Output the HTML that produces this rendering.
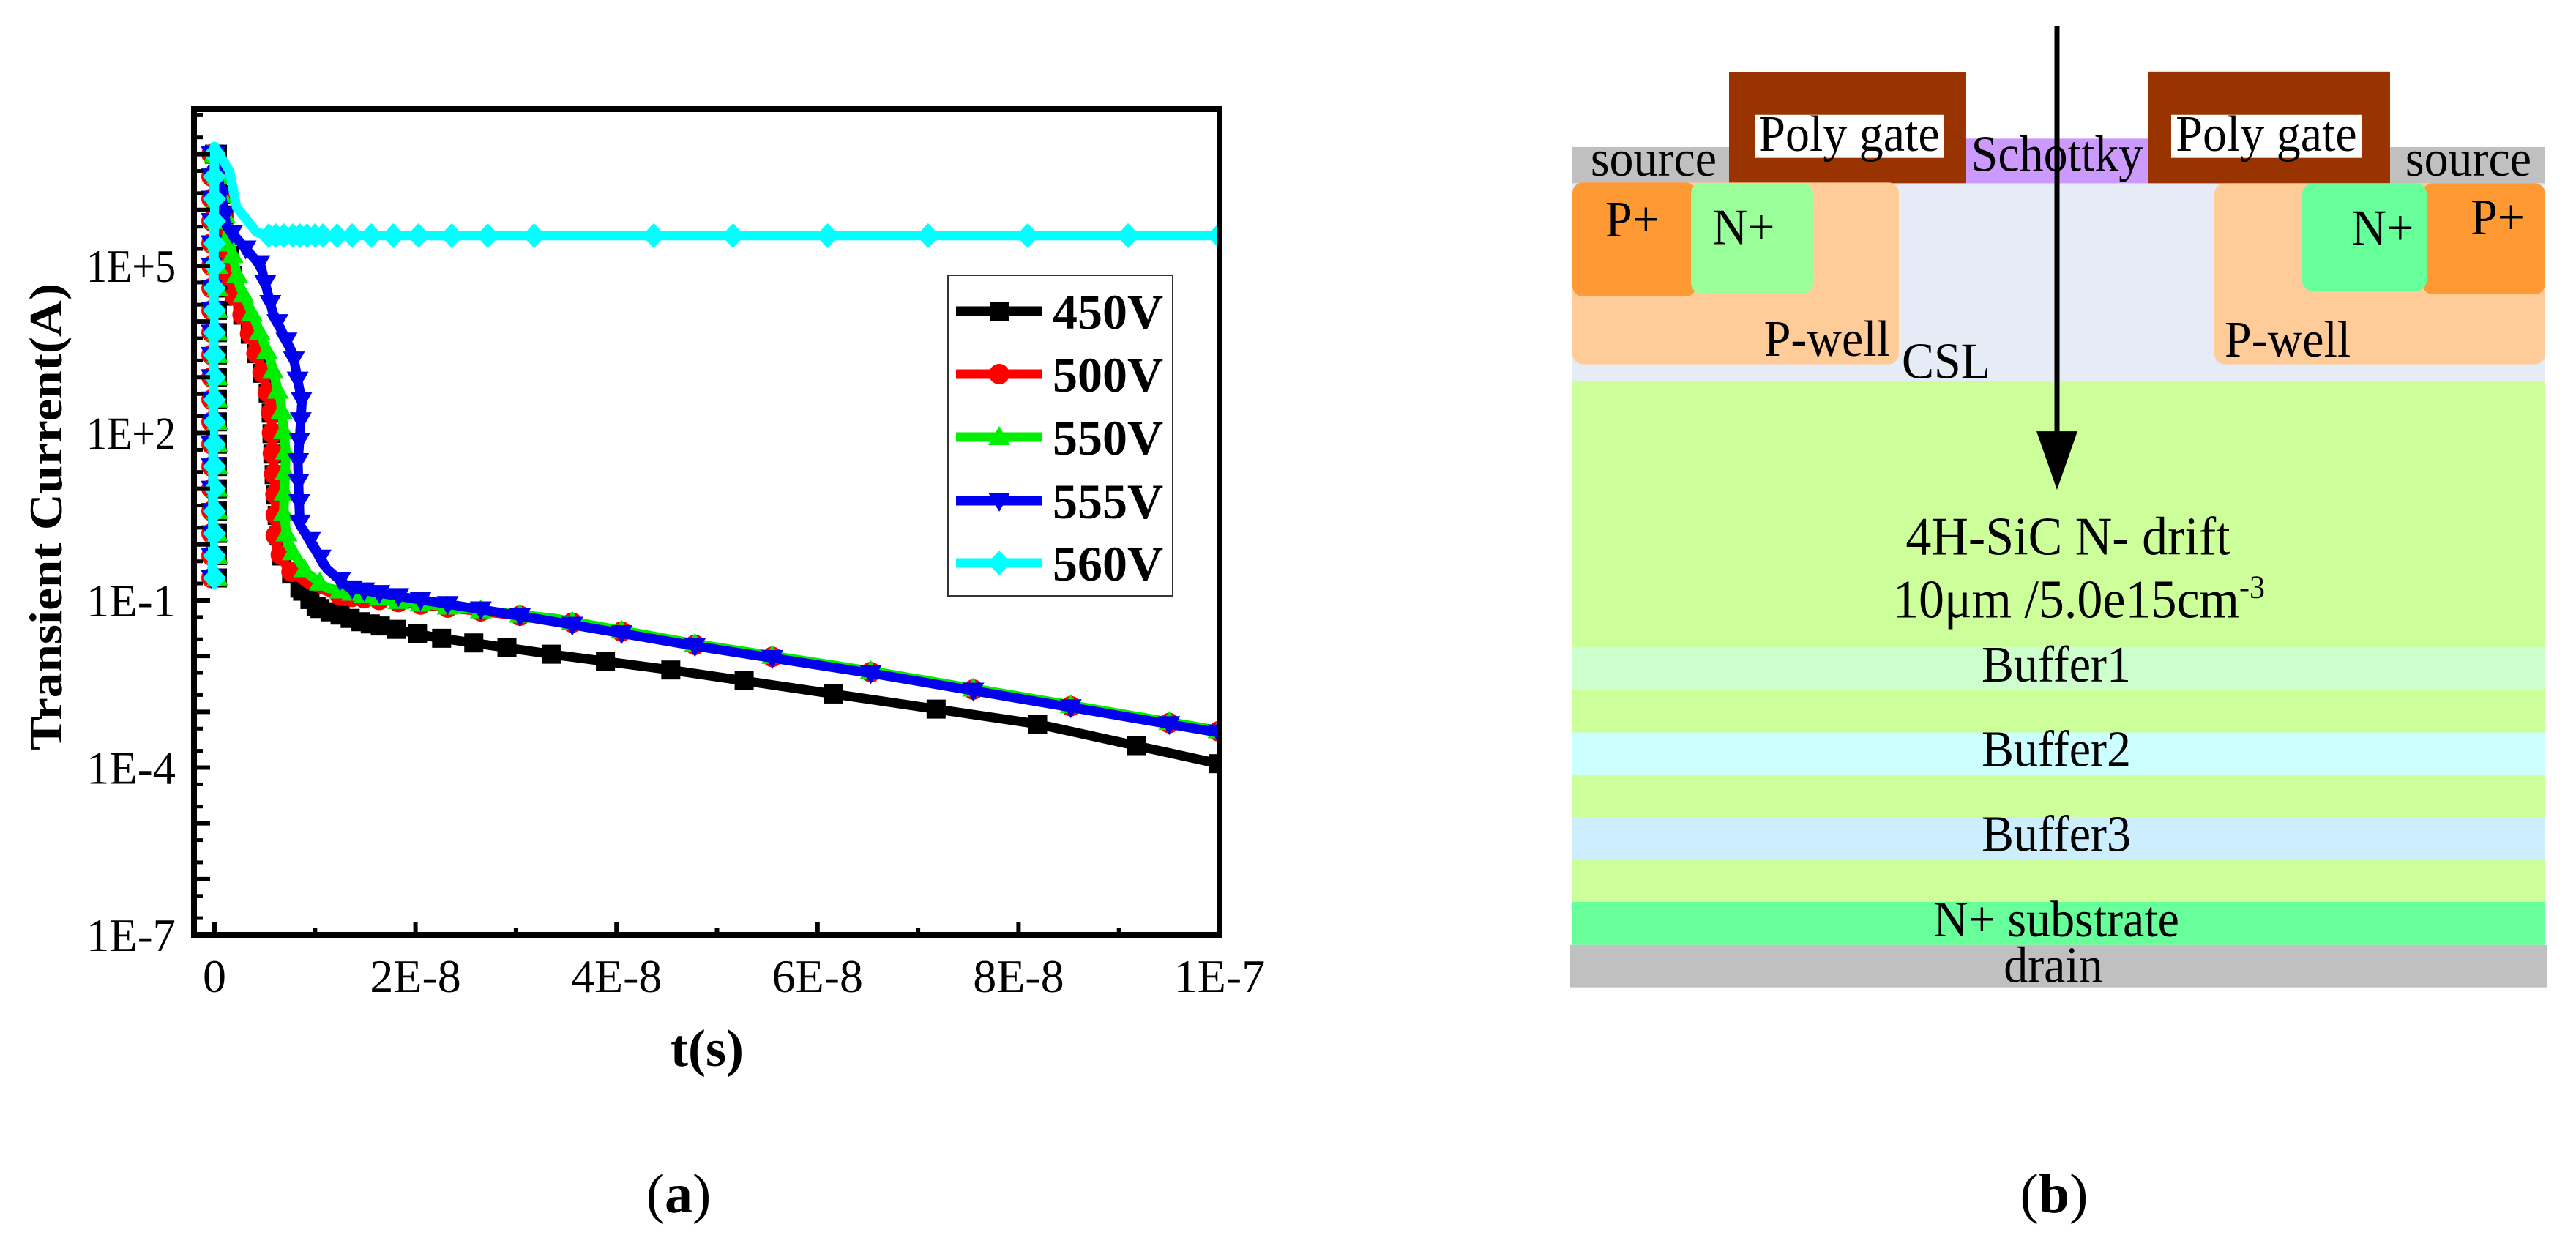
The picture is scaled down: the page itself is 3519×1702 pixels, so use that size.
<!DOCTYPE html>
<html><head><meta charset="utf-8"><style>
html,body{margin:0;padding:0;background:#fff;}
svg{display:block;font-family:"Liberation Serif",serif;}
</style></head><body>
<svg id="fig" width="3519" height="1702" viewBox="0 0 3519 1702" xmlns="http://www.w3.org/2000/svg">
<g id="chart"></g>
<text x="927" y="1656" font-size="76" text-anchor="middle">(<tspan font-weight="bold">a</tspan>)</text>

<g transform="scale(1,1.052)">
<rect x="2148" y="237" width="1329" height="258" fill="#e6ecf6"/>
<rect x="2148" y="495" width="1329" height="676" fill="#ccff99"/>
<rect x="2148" y="840" width="1329" height="56" fill="#ccffcc"/>
<rect x="2148" y="951" width="1329" height="55" fill="#ccffff"/>
<rect x="2148" y="1061" width="1329" height="55" fill="#cceeff"/>
<rect x="2148" y="1171" width="1329" height="56" fill="#66ff99"/>
<rect x="2145" y="1227" width="1334" height="55" fill="#c0c0c0"/>
<rect x="2148" y="191" width="214" height="47" fill="#c0c0c0"/>
<rect x="3265" y="191" width="212" height="47" fill="#c0c0c0"/>
<rect x="2686" y="180" width="249" height="58" fill="#cc99ff"/>
<rect x="2362" y="94" width="324" height="144" fill="#993300"/>
<rect x="2935" y="93" width="330" height="145" fill="#993300"/>
<rect x="2397" y="149" width="259" height="56" fill="#fff"/>
<rect x="2966" y="149" width="261" height="56" fill="#fff"/>
<rect x="2148" y="237" width="446" height="236" rx="14" fill="#ffcc99"/>
<rect x="3025" y="238" width="452" height="235" rx="14" fill="#ffcc99"/>
<rect x="2148" y="237" width="169" height="148" rx="14" fill="#ff9933"/>
<rect x="2310" y="238" width="167" height="143" rx="14" fill="#99ff99"/>
<rect x="3309" y="238" width="168" height="144" rx="14" fill="#ff9933"/>
<rect x="3145" y="238" width="170" height="140" rx="14" fill="#66ff99"/>
<g font-size="66" fill="#000">
<text x="2259" y="228" text-anchor="middle">source</text>
<text x="3372" y="228" text-anchor="middle">source</text>
<text x="2526" y="196" text-anchor="middle">Poly gate</text>
<text x="3096" y="196" text-anchor="middle">Poly gate</text>
<text x="2810" y="222" text-anchor="middle">Schottky</text>
<text x="2230" y="307" text-anchor="middle">P+</text>
<text x="2382" y="317" text-anchor="middle">N+</text>
<text x="3255" y="318" text-anchor="middle">N+</text>
<text x="3412" y="304" text-anchor="middle">P+</text>
<text x="2582" y="462" text-anchor="end">P-well</text>
<text x="3039" y="463">P-well</text>
<text x="2598" y="491">CSL</text>
<text x="2825" y="720" text-anchor="middle" font-size="70">4H-SiC N- drift</text>
<text x="2840" y="802" text-anchor="middle" font-size="70">10μm /5.0e15cm<tspan font-size="42" dy="-26">-3</tspan></text>
<text x="2809" y="885" text-anchor="middle">Buffer1</text>
<text x="2809" y="995" text-anchor="middle">Buffer2</text>
<text x="2809" y="1105" text-anchor="middle">Buffer3</text>
<text x="2809" y="1216" text-anchor="middle">N+ substrate</text>
<text x="2805" y="1275" text-anchor="middle">drain</text>
</g>
<line x1="2810" y1="34" x2="2810" y2="570" stroke="#000" stroke-width="7"/>
<polygon points="2782,560 2838,560 2810,636" fill="#000"/>
</g>
<text x="2806" y="1656" font-size="76" text-anchor="middle">(<tspan font-weight="bold">b</tspan>)</text>
</svg>
<script>
// time in units of 1e-8 s, current as log10(A)
const seriesNames = ["450V","500V","550V","555V","560V"];
const seriesColors = ["#000000","#ff0000","#00ee00","#0000ee","#00ffff"];
const t450 = [-0.02,0,0.11,0.2,0.34,0.46,0.56,0.58,0.61,0.66,0.83,1.02,1.46,2.18,3.4,4.54,6.16,8.19,9.99];
const v450 = [-0.7,7.0,5.7,4.47,3.86,3.2,2.55,1.66,0.8,-0.17,-0.74,-1.13,-1.39,-1.66,-1.98,-2.25,-2.68,-3.22,-3.93];
const t500 = [-0.02,0,0.12,0.12,0.2,0.34,0.46,0.56,0.58,0.61,0.61,0.73,0.92,1.22,1.82,2.31,3.4,4.78,6.57,8.52,9.98];
const v500 = [-0.7,7.0,5.34,4.95,4.47,3.86,3.2,2.55,1.66,0.8,0.0,-0.44,-0.7,-0.91,-1.03,-1.13,-1.35,-1.8,-2.3,-2.9,-3.35];
const t550 = [-0.02,0,0.13,0.25,0.42,0.56,0.66,0.71,0.69,0.73,0.92,1.12,1.82,2.31,3.4,4.78,6.57,8.52,9.98];
const v550 = [-0.7,7.0,5.6,4.64,3.95,3.29,2.55,1.66,0.57,0.0,-0.51,-0.78,-1.01,-1.11,-1.33,-1.78,-2.28,-2.88,-3.33];
const t555 = [-0.02,0,0.12,0.46,0.58,0.78,0.87,0.83,0.85,0.98,1.12,1.34,1.94,2.67,3.4,4.78,6.57,8.52,9.98];
const v555 = [-0.7,7.0,5.7,5.0,4.16,3.42,2.55,1.45,0.35,0.0,-0.44,-0.78,-0.96,-1.17,-1.39,-1.82,-2.32,-2.92,-3.37];
const t560 = [-0.02,0,0.15,0.22,0.42,0.54,1.0,10];
const v560 = [-0.7,7.14,6.7,6.05,5.6,5.54,5.54,5.54];
const markT450 = [0.85,0.95,1.05,1.15,1.25,1.35,1.45,1.55,1.65,1.81,2.02,2.26,2.58,2.91,3.35,3.89,4.54,5.27,6.16,7.18,8.19,9.17,9.99];
const markTOther = [1.25,1.37,1.49,1.64,1.83,2.05,2.32,2.65,3.04,3.56,4.05,4.78,5.55,6.53,7.55,8.52,9.5,9.99];
const markT560 = [0.54,0.61,0.69,0.78,0.85,0.92,1.0,1.08,1.22,1.37,1.56,1.78,2.03,2.36,2.72,3.18,4.37,5.16,6.1,7.1,8.09,9.09,9.99];
const spikeMarks = [-0.6,-0.2,0.2,0.6,1.0,1.4,1.8,2.2,2.6,3.0,3.4,3.8,4.2,4.6,5.0,5.4,5.8,6.2,6.6,7.0];
const xTicks = [0,2,4,6,8,10];
const xTickLabels = ["0","2E-8","4E-8","6E-8","8E-8","1E-7"];
const yTicks = [-7,-4,-1,2,5];
const yTickLabels = ["1E-7","1E-4","1E-1","1E+2","1E+5"];

const NS="http://www.w3.org/2000/svg";
const L=265,R=1666,T=149,B=1277;
const X=t=>293+t/10*1373;
const Y=l=>1277-(l+7)*76.17;
const g=document.getElementById('chart');
function mk(tag,attrs,parent){const e=document.createElementNS(NS,tag);for(const k in attrs)e.setAttribute(k,attrs[k]);(parent||g).appendChild(e);return e;}
function interp(ts,vs,t){for(let i=1;i<ts.length;i++){if(t<=ts[i]&&ts[i]>ts[i-1]&&t>=ts[i-1]){const f=(t-ts[i-1])/(ts[i]-ts[i-1]);return vs[i-1]+f*(vs[i]-vs[i-1]);}}return vs[vs.length-1];}
function marker(type,x,y,color,parent){
  let e;
  if(type==0) e=mk('rect',{x:x-13,y:y-13,width:26,height:26,fill:color},parent);
  else if(type==1) e=mk('circle',{cx:x,cy:y,r:14,fill:color},parent);
  else if(type==2) e=mk('polygon',{points:`${x},${y-15} ${x+15},${y+11} ${x-15},${y+11}`,fill:color},parent);
  else if(type==3) e=mk('polygon',{points:`${x},${y+15} ${x+15},${y-11} ${x-15},${y-11}`,fill:color},parent);
  else e=mk('polygon',{points:`${x},${y-17} ${x+16},${y} ${x},${y+17} ${x-16},${y}`,fill:color},parent);
  
  
  return e;
}
const clip=mk('clipPath',{id:'pc'});mk('rect',{x:L,y:T,width:R-L,height:B-T},clip);
const plot=mk('g',{'clip-path':'url(#pc)'});


const allT=[t450,t500,t550,t555,t560],allV=[v450,v500,v550,v555,v560];
const allMarks=[markT450,markTOther,markTOther,markTOther,markT560];
for(let s=0;s<5;s++){
  const sg=mk('g',{},plot);
  
  
  const px=allT[s].map(t=>X(t)), py=allV[s].map(v=>Y(v));
  const pts=px.map((x,i)=>x.toFixed(1)+','+py[i].toFixed(1)).join(' ');
  const pl=mk('polyline',{points:pts,fill:'none',stroke:seriesColors[s],'stroke-width':13,'stroke-linejoin':'round'},sg);
  
  
  spikeMarks.forEach(l=>marker(s,X(0)+(s==4?0:(s%2?-4:4)),Y(l),seriesColors[s],sg));
  if(s<4){
    let acc=0;
    for(let i=2;i<px.length;i++){
      if(allT[s][i]>1.2) break;
      const dx=px[i]-px[i-1],dy=py[i]-py[i-1],len=Math.hypot(dx,dy);
      for(let d=(28-acc)%28;d<len;d+=28){marker(s,px[i-1]+dx*d/len,py[i-1]+dy*d/len,seriesColors[s],sg);}
      acc=(acc+len)%28;
    }
  }
  allMarks[s].forEach(t=>marker(s,X(t),Y(interp(allT[s],allV[s],t)),seriesColors[s],sg));
}
const fr=mk('rect',{x:L,y:T,width:R-L,height:B-T,fill:'none',stroke:'#000','stroke-width':8});


for(let t=0;t<=10;t++){
  const major=t%2==0;
  const tk=mk('line',{x1:X(t),x2:X(t),y1:B,y2:B-(major?18:10),stroke:'#000','stroke-width':6});
  
  
}
xTicks.forEach((t,i)=>{
  const e=mk('text',{x:X(t),y:1355,'font-size':64,'text-anchor':'middle'});
  e.textContent=xTickLabels[i];
  
  
});
for(let d=-7;d<=7;d++){
  const tk=mk('line',{x1:L,x2:L+22,y1:Y(d),y2:Y(d),stroke:'#000','stroke-width':6});
  
  
  [2,5].forEach(m=>{const yy=Y(d+Math.log10(m));if(yy>T+4){
    const mt=mk('line',{x1:L,x2:L+12,y1:yy,y2:yy,stroke:'#000','stroke-width':5});
    
    }});
}
yTicks.forEach((l,i)=>{
  const e=mk('text',{x:240,y:Y(l)+22,'font-size':64,'text-anchor':'end',textLength:122,lengthAdjust:'spacingAndGlyphs'});
  e.textContent=yTickLabels[i];
  
  
});
const xt=mk('text',{x:966,y:1456,'font-size':72,'font-weight':'bold','text-anchor':'middle'});
xt.textContent='t(s)';


const yt=mk('text',{x:0,y:0,'font-size':64,'font-weight':'bold','text-anchor':'middle',transform:'translate(84,706) rotate(-90)',textLength:638,lengthAdjust:'spacingAndGlyphs'});
yt.textContent='Transient Current(A)';


const lg=mk('g',{});


mk('rect',{x:1295,y:376,width:307,height:438,fill:'#fff',stroke:'#333','stroke-width':2},lg);
const ly=[425,511,597,684,769];
for(let s=0;s<5;s++){
  const eg=mk('g',{},lg);
  
  
  mk('line',{x1:1306,x2:1424,y1:ly[s],y2:ly[s],stroke:seriesColors[s],'stroke-width':13},eg);
  marker(s,1365,ly[s],seriesColors[s],eg);
  const tx=mk('text',{x:1438,y:ly[s]+24,'font-size':68,'font-weight':'bold'},eg);
  tx.textContent=seriesNames[s];
  
  
}
</script>
</body></html>
